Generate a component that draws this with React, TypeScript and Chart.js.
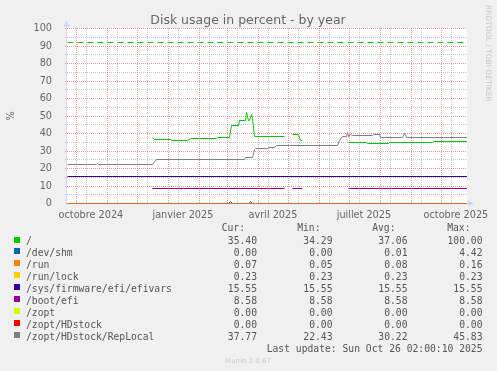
import React, { useEffect, useRef } from "react";
import { Chart, registerables } from "chart.js";

Chart.register(...registerables);

const TITLE = "Disk usage in percent - by year";
const Y_AXIS_LABEL = "%";
const WATERMARK = "RRDTOOL / TOBI OETIKER";
const FOOTER = "Munin 2.0.67";
const LAST_UPDATE = "Last update: Sun Oct 26 02:00:10 2025";

const RANGE_START = "2024-09-21T02:00:10";
const RANGE_END = "2025-10-26T02:00:10";

const Y_TICKS = [0, 10, 20, 30, 40, 50, 60, 70, 80, 90, 100];
const X_TICK_DATES = ["2024-10-15", "2025-01-15", "2025-04-15", "2025-07-15", "2025-10-15"];
const X_TICK_LABELS = ["octobre 2024", "janvier 2025", "avril 2025", "juillet 2025", "octobre 2025"];
const MINOR_GRID_DAY = 11;

const WARNING_LEVEL = 92;

type Pt = [string, number | null];

const ROOT: Pt[] = [
  ["2024-12-16", 37.7], ["2024-12-18", 36.6], ["2025-01-03", 36.6], ["2025-01-04", 36.0],
  ["2025-01-20", 36.0], ["2025-01-23", 37.1], ["2025-02-18", 37.1], ["2025-02-19", 37.7],
  ["2025-03-03", 37.7], ["2025-03-05", 44.6], ["2025-03-12", 44.6], ["2025-03-13", 47.2],
  ["2025-03-19", 47.2], ["2025-03-20", 52.0], ["2025-03-22", 47.6], ["2025-03-23", 47.6],
  ["2025-03-25", 51.0], ["2025-03-26", 48.5], ["2025-03-28", 38.5], ["2025-04-27", 38.5],
  ["2025-04-28", null], ["2025-05-05", 39.5], ["2025-05-11", 39.5], ["2025-05-13", 36.2],
  ["2025-05-15", 36.2], ["2025-05-16", null], ["2025-06-30", 34.8], ["2025-07-18", 34.8],
  ["2025-07-19", 34.3], ["2025-08-09", 34.3], ["2025-08-10", 34.8], ["2025-09-22", 34.8],
  ["2025-09-23", 35.4], [RANGE_END, 35.4],
];

const DEV_SHM: Pt[] = [
  [RANGE_START, 0], ["2025-03-02", 0], ["2025-03-04", 1.3], ["2025-03-06", 0],
  ["2025-03-23", 0], ["2025-03-24", 1.3], ["2025-03-26", 0], [RANGE_END, 0],
];

const RUN: Pt[] = [[RANGE_START, 0.07], [RANGE_END, 0.07]];
const RUN_LOCK: Pt[] = [[RANGE_START, 0.23], [RANGE_END, 0.23]];
const EFIVARS: Pt[] = [[RANGE_START, 15.55], [RANGE_END, 15.55]];

const BOOT_EFI: Pt[] = [
  ["2024-12-16", 8.58], ["2025-04-27", 8.58], ["2025-04-28", null], ["2025-05-05", 8.58],
  ["2025-05-15", 8.58], ["2025-05-16", null], ["2025-06-30", 8.58], [RANGE_END, 8.58],
];

const ZOPT: Pt[] = [[RANGE_START, 0], [RANGE_END, 0]];
const HDSTOCK: Pt[] = [[RANGE_START, 0], [RANGE_END, 0]];

const REPLOCAL: Pt[] = [
  [RANGE_START, 22.4], ["2024-10-21", 22.4], ["2024-10-22", 22.9], ["2024-10-23", 22.4],
  ["2024-12-16", 22.4], ["2024-12-20", 25.2], ["2025-03-18", 25.2], ["2025-03-19", 26.3],
  ["2025-03-26", 26.3], ["2025-03-28", 30.9], ["2025-03-29", 31.4], ["2025-04-10", 31.4],
  ["2025-04-11", 32.2], ["2025-04-17", 32.2], ["2025-04-19", 33.3], ["2025-06-19", 33.3],
  ["2025-06-21", 36.2], ["2025-06-24", 38.1], ["2025-06-28", 38.1], ["2025-06-29", 40.4],
  ["2025-06-30", 38.1], ["2025-07-02", 39.6], ["2025-07-04", 38.9], ["2025-07-24", 38.9],
  ["2025-07-25", 39.4], ["2025-07-31", 39.4], ["2025-08-01", 37.9], ["2025-08-23", 37.9],
  ["2025-08-25", 40.0], ["2025-08-27", 37.9], [RANGE_END, 37.8],
];

const SERIES_NAMES = [
  "/", "/dev/shm", "/run", "/run/lock", "/sys/firmware/efi/efivars",
  "/boot/efi", "/zopt", "/zopt/HDstock", "/zopt/HDstock/RepLocal",
];
const SERIES_DATA = [ROOT, DEV_SHM, RUN, RUN_LOCK, EFIVARS, BOOT_EFI, ZOPT, HDSTOCK, REPLOCAL];
const SERIES_COLORS = [
  "#00CC00", "#0066B3", "#FF8000", "#FFCC00", "#330099",
  "#990099", "#CCFF00", "#FF0000", "#808080",
];
const CUR = ["35.40", "0.00", "0.07", "0.23", "15.55", "8.58", "0.00", "0.00", "37.77"];
const MIN = ["34.29", "0.00", "0.05", "0.23", "15.55", "8.58", "0.00", "0.00", "22.43"];
const AVG = ["37.06", "0.01", "0.08", "0.23", "15.55", "8.58", "0.00", "0.00", "30.22"];
const MAX = ["100.00", "4.42", "0.16", "0.23", "15.55", "8.58", "0.00", "0.00", "45.83"];
const COLUMN_HEADERS = ["Cur:", "Min:", "Avg:", "Max:"];

const ts = (s: string) => Date.parse(s.length === 10 ? s + "T00:00:00Z" : s + "Z");

const SANS = "'DejaVu Sans', sans-serif";
const MONO = "'DejaVu Sans Mono', monospace";
const FONT_COLOR = "#666666";

const snap = (v: number) => Math.floor(v) + 0.5;

const muninPlugin = {
  id: "muninDecor",
  beforeDraw(chart: any) {
    const { ctx, chartArea } = chart;
    ctx.save();
    ctx.fillStyle = "#F0F0F0";
    ctx.fillRect(0, 0, chart.width, chart.height);
    ctx.fillStyle = "#FFFFFF";
    ctx.fillRect(chartArea.left, Math.floor(chartArea.top), chartArea.right - chartArea.left, Math.ceil(chartArea.bottom) - Math.floor(chartArea.top));
    ctx.restore();
  },
  beforeDatasetsDraw(chart: any) {
    const { ctx, chartArea } = chart;
    const xs = chart.scales.x;
    const ys = chart.scales.y;
    const { left, right, top, bottom } = chartArea;
    // snap line vertices to pixel centres, as rrdtool does
    chart.data.datasets.forEach((_ds: any, i: number) => {
      const meta = chart.getDatasetMeta(i);
      meta.data.forEach((p: any) => {
        if (Number.isFinite(p.y)) p.y = snap(p.y);
        if (Number.isFinite(p.x)) p.x = snap(p.x);
      });
    });
    const gTop = Math.floor(top);
    const gBottom = Math.floor(bottom);
    ctx.save();
    ctx.lineWidth = 1;
    ctx.setLineDash([1, 1]);
    const t0 = ts(RANGE_START);
    const t1 = ts(RANGE_END);
    const s = new Date(t0);
    const vline = (t: number) => {
      if (t <= t0 || t >= t1) return;
      const px = snap(xs.getPixelForValue(t));
      ctx.beginPath();
      ctx.moveTo(px, gTop);
      ctx.lineTo(px, gBottom);
      ctx.stroke();
    };
    // minor vertical
    ctx.strokeStyle = "rgba(140,140,140,0.5)";
    for (let k = 0; k < 15; k++) {
      vline(Date.UTC(s.getUTCFullYear(), s.getUTCMonth() + k, MINOR_GRID_DAY));
    }
    // horizontal minor
    for (let v = 5; v < 100; v += 10) {
      const py = snap(ys.getPixelForValue(v));
      ctx.beginPath();
      ctx.moveTo(left - 2, py);
      ctx.lineTo(right, py);
      ctx.stroke();
    }
    // major vertical: months
    ctx.strokeStyle = "rgba(233,80,80,0.6)";
    for (let k = 1; k < 15; k++) {
      vline(Date.UTC(s.getUTCFullYear(), s.getUTCMonth() + k, 1));
    }
    for (const v of Y_TICKS) {
      const py = snap(ys.getPixelForValue(v));
      ctx.beginPath();
      ctx.moveTo(left - 2, py);
      ctx.lineTo(right, py);
      ctx.stroke();
    }
    ctx.setLineDash([]);
    // axes
    ctx.strokeStyle = "#CFD6F8";
    ctx.fillStyle = "#CFD6F8";
    const ax = left - 0.5;
    ctx.beginPath();
    ctx.moveTo(ax, bottom + 2);
    ctx.lineTo(ax, top - 4);
    ctx.stroke();
    ctx.beginPath();
    ctx.moveTo(ax - 3, top - 2);
    ctx.lineTo(ax + 3, top - 2);
    ctx.lineTo(ax, top - 8);
    ctx.closePath();
    ctx.fill();
    const ay = bottom;
    ctx.beginPath();
    ctx.moveTo(left - 2, ay);
    ctx.lineTo(right + 4, ay);
    ctx.stroke();
    ctx.beginPath();
    ctx.moveTo(right + 1, ay - 3);
    ctx.lineTo(right + 1, ay + 3);
    ctx.lineTo(right + 7, ay);
    ctx.closePath();
    ctx.fill();
    ctx.restore();
  },
  afterDraw(chart: any) {
    const { ctx, chartArea } = chart;
    ctx.save();
    // title
    ctx.fillStyle = FONT_COLOR;
    ctx.font = `12.5px ${SANS}`;
    ctx.textAlign = "center";
    ctx.textBaseline = "alphabetic";
    ctx.fillText(TITLE, 248, 24);
    // y axis label
    ctx.save();
    ctx.translate(14, (chartArea.top + chartArea.bottom) / 2);
    ctx.rotate(-Math.PI / 2);
    ctx.font = `9.7px ${SANS}`;
    ctx.textAlign = "center";
    ctx.fillText(Y_AXIS_LABEL, 0, 0);
    ctx.restore();
    // watermark
    ctx.save();
    ctx.translate(486, 5);
    ctx.rotate(Math.PI / 2);
    ctx.fillStyle = "#C8C8C8";
    ctx.font = `7.5px ${SANS}`;
    ctx.textAlign = "left";
    ctx.fillText(WATERMARK, 0, 0);
    ctx.restore();
    // legend
    ctx.font = `9.7px ${MONO}`;
    ctx.fillStyle = "#555555";
    const colRight = [257, 332.5, 407.5, 482.5];
    ctx.textAlign = "right";
    COLUMN_HEADERS.forEach((h, i) => ctx.fillText(h, colRight[i] - 12, 231));
    const cols = [CUR, MIN, AVG, MAX];
    SERIES_NAMES.forEach((name, i) => {
      const yb = 244 + i * 11.95;
      ctx.fillStyle = SERIES_COLORS[i];
      ctx.fillRect(14, Math.round(yb - 7.5), 6, 6);
      ctx.fillStyle = "#555555";
      ctx.textAlign = "left";
      ctx.fillText(name, 26, yb);
      ctx.textAlign = "right";
      cols.forEach((c, j) => ctx.fillText(c[i], colRight[j], yb));
    });
    ctx.fillText(LAST_UPDATE, 482.5, 351.5);
    ctx.fillStyle = "#CCCCCC";
    ctx.font = `7px ${SANS}`;
    ctx.textAlign = "center";
    ctx.fillText(FOOTER, 248, 363);
    ctx.restore();
  },
};

export default function App() {
  const ref = useRef<HTMLCanvasElement | null>(null);
  useEffect(() => {
    if (!ref.current) return;
    const datasets: any[] = SERIES_DATA.map((pts, i) => ({
      label: SERIES_NAMES[i],
      data: pts.map(([d, v]) => ({ x: ts(d), y: v })),
      borderColor: SERIES_COLORS[i],
      backgroundColor: SERIES_COLORS[i],
      borderWidth: 1,
      pointRadius: 0,
      spanGaps: false,
      order: 50 - i,
    }));
    datasets.push({
      label: "warning",
      data: [{ x: ts(RANGE_START), y: WARNING_LEVEL }, { x: ts(RANGE_END), y: WARNING_LEVEL }],
      borderColor: "#00CC00",
      borderWidth: 1,
      borderDash: [6, 4],
      pointRadius: 0,
      order: 0,
    });
    const chart = new Chart(ref.current, {
      type: "line",
      data: { datasets },
      options: {
        animation: false,
        responsive: false,
        maintainAspectRatio: false,
        devicePixelRatio: 1,
        layout: { padding: { left: 0, right: 30, top: 28.5, bottom: 0 } },
        plugins: { legend: { display: false }, tooltip: { enabled: false }, title: { display: false } },
        elements: { point: { radius: 0 }, line: { tension: 0 } },
        scales: {
          x: {
            type: "linear",
            min: ts(RANGE_START),
            max: ts(RANGE_END),
            grid: { display: false },
            border: { display: false },
            afterBuildTicks: (s: any) => {
              s.ticks = X_TICK_DATES.map((d) => ({ value: ts(d) }));
            },
            afterFit: (s: any) => {
              s.height = 167.5;
            },
            ticks: {
              autoSkip: false,
              maxRotation: 0,
              padding: -2,
              color: FONT_COLOR,
              font: { family: SANS, size: 9.7 },
              callback: (_v: any, i: number) => X_TICK_LABELS[i],
            },
          },
          y: {
            type: "linear",
            min: 0,
            max: 100,
            grid: { display: false },
            border: { display: false },
            afterBuildTicks: (s: any) => {
              s.ticks = Y_TICKS.map((v) => ({ value: v }));
            },
            afterFit: (s: any) => {
              s.width = 67;
            },
            ticks: {
              padding: 7,
              color: FONT_COLOR,
              font: { family: SANS, size: 9.7 },
            },
          },
        },
      },
      plugins: [muninPlugin],
    } as any);
    return () => chart.destroy();
  }, []);
  return (
    <div style={{ position: "fixed", left: 0, top: 0, width: 497, height: 371 }}>
      <canvas ref={ref} width={497} height={371} style={{ width: 497, height: 371, display: "block" }} />
    </div>
  );
}
